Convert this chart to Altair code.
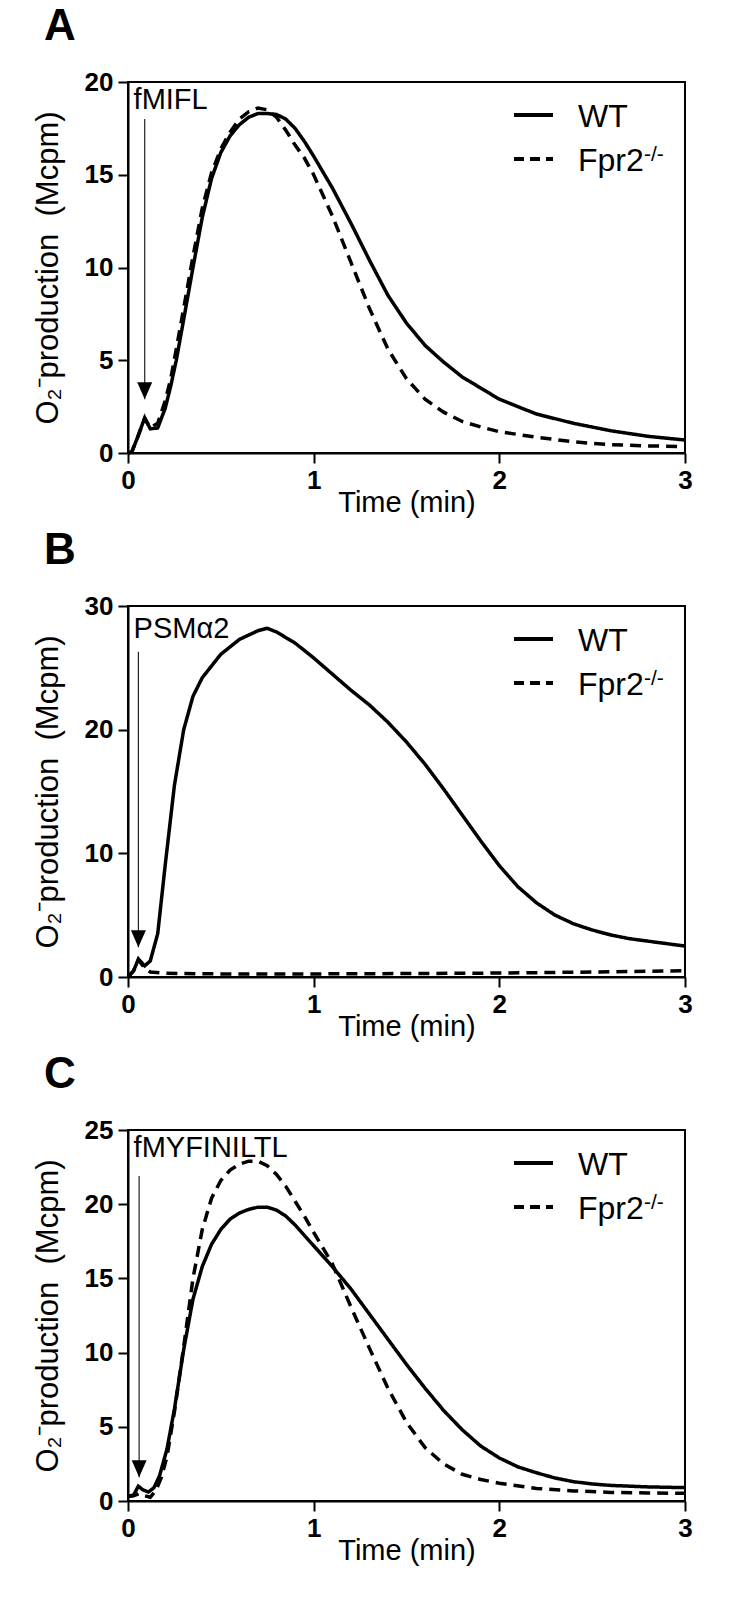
import altair as alt
import pandas as pd

FONT = "Liberation Sans"
Y_TITLE = "O₂⁻production\u00a0 (Mcpm)"
X_TITLE = "Time (min)"
SERIES = ["WT", "Fpr2"]

# ---------------- Panel A : fMIFL ----------------
a_time = [0, 0.02, 0.05, 0.09, 0.12, 0.16, 0.20, 0.23, 0.26, 0.30, 0.35, 0.40, 0.45,
          0.50, 0.55, 0.60, 0.65, 0.70, 0.75, 0.80, 0.85, 0.90, 0.95, 1.00, 1.10,
          1.20, 1.30, 1.40, 1.50, 1.60, 1.70, 1.80, 1.90, 2.00, 2.20, 2.40, 2.60,
          2.80, 3.00]
a_wt = [0.0, 0.05, 0.8, 1.9, 1.3, 1.35, 2.4, 3.6, 5.0, 7.2, 10.0, 12.7, 14.8,
        16.2, 17.1, 17.7, 18.1, 18.3, 18.3, 18.25, 18.0, 17.5, 16.8, 16.0, 14.3,
        12.4, 10.4, 8.5, 7.0, 5.8, 4.9, 4.1, 3.5, 2.9, 2.1, 1.6, 1.2,
        0.9, 0.7]
a_ko = [0.0, 0.05, 0.8, 1.85, 1.35, 1.6, 2.8, 4.0, 5.6, 7.8, 10.6, 13.2, 15.1,
        16.4, 17.3, 18.0, 18.4, 18.6, 18.5, 18.1, 17.4, 16.6, 15.9, 15.0, 12.8,
        10.3, 7.8, 5.6, 4.0, 2.9, 2.2, 1.7, 1.4, 1.15, 0.85, 0.6, 0.45,
        0.38, 0.35]

# ---------------- Panel B : PSMalpha2 ----------------
b_time_wt = [0, 0.03, 0.056, 0.09, 0.12, 0.16, 0.20, 0.25, 0.30, 0.35, 0.40, 0.50,
             0.60, 0.70, 0.75, 0.80, 0.90, 1.00, 1.10, 1.20, 1.30, 1.40, 1.50,
             1.60, 1.70, 1.80, 1.90, 2.00, 2.10, 2.20, 2.30, 2.40, 2.50, 2.60,
             2.70, 2.80, 2.90, 3.00]
b_wt = [0.0, 0.5, 1.45, 0.9, 1.3, 3.5, 9.0, 15.5, 20.0, 22.7, 24.2, 26.1,
        27.3, 28.0, 28.2, 27.9, 27.0, 25.8, 24.5, 23.2, 22.0, 20.6, 19.0,
        17.2, 15.2, 13.1, 11.0, 9.0, 7.3, 6.0, 5.0, 4.3, 3.8, 3.4,
        3.1, 2.9, 2.7, 2.5]
b_time_ko = [0, 0.03, 0.056, 0.09, 0.12, 0.20, 0.50, 1.00, 1.50, 2.00, 2.50, 3.00]
b_ko = [0.0, 0.5, 1.4, 0.7, 0.4, 0.3, 0.25, 0.25, 0.28, 0.32, 0.4, 0.5]

# ---------------- Panel C : fMYFINILTL ----------------
c_time_wt = [0, 0.03, 0.056, 0.08, 0.11, 0.14, 0.17, 0.21, 0.25, 0.30, 0.35, 0.40,
             0.45, 0.50, 0.55, 0.60, 0.65, 0.70, 0.75, 0.80, 0.85, 0.90, 0.95,
             1.00, 1.10, 1.20, 1.30, 1.40, 1.50, 1.60, 1.70, 1.80, 1.90, 2.00,
             2.10, 2.20, 2.30, 2.40, 2.50, 2.60, 2.80, 3.00]
c_wt = [0.3, 0.4, 1.0, 0.75, 0.6, 0.9, 1.7, 3.5, 6.2, 10.2, 13.6, 15.8,
        17.3, 18.3, 19.0, 19.4, 19.65, 19.8, 19.8, 19.6, 19.2, 18.6, 17.9,
        17.2, 15.8, 14.3, 12.6, 10.9, 9.2, 7.6, 6.1, 4.8, 3.7, 2.9,
        2.3, 1.9, 1.55, 1.3, 1.15, 1.05, 0.95, 0.9]
c_time_ko = [0, 0.03, 0.06, 0.09, 0.12, 0.15, 0.18, 0.21, 0.25, 0.30, 0.35, 0.40,
             0.45, 0.50, 0.55, 0.60, 0.65, 0.70, 0.75, 0.80, 0.85, 0.90, 0.95,
             1.00, 1.10, 1.20, 1.30, 1.40, 1.50, 1.60, 1.70, 1.80, 1.90, 2.00,
             2.20, 2.40, 2.60, 2.80, 3.00]
c_ko = [0.3, 0.35, 0.5, 0.35, 0.25, 0.7, 1.6, 3.0, 6.0, 10.4, 15.0, 18.3,
        20.4, 21.6, 22.3, 22.7, 22.9, 22.9, 22.6, 22.0, 21.2, 20.2, 19.2,
        18.1, 16.0, 13.1, 10.3, 7.6, 5.3, 3.6, 2.5, 1.8, 1.45, 1.2,
        0.85, 0.68, 0.58, 0.54, 0.52]

# stimulus annotations: label, label time, label y (baseline), arrow time, arrow top, arrow tip
stimuli = {
    "A": ("fMIFL", 0.03, 18.55, 0.09, 18.0, 2.9),
    "B": ("PSMα2", 0.03, 27.4, 0.056, 26.3, 2.4),
    "C": ("fMYFINILTL", 0.03, 23.2, 0.06, 21.9, 1.6),
}

ARROW_HEAD = "M-0.44,-1L0.44,-1L0,0Z"


def panel(letter, t_wt, v_wt, t_ko, v_ko, ymax, ystep):
    df = pd.concat([
        pd.DataFrame({"t": t_wt, "v": v_wt, "g": "WT"}),
        pd.DataFrame({"t": t_ko, "v": v_ko, "g": "Fpr2"}),
    ])
    xs = alt.Scale(domain=[0, 3], nice=False)
    ys = alt.Scale(domain=[0, ymax], nice=False)
    xaxis = alt.Axis(values=[0, 1, 2, 3], title=X_TITLE, labelFlush=False,
                     labelPadding=4, titlePadding=-5, format="d")
    yaxis = alt.Axis(values=list(range(0, ymax + 1, ystep)), title=Y_TITLE,
                     labelFlush=False, labelPadding=5, titlePadding=20)

    lines = alt.Chart(df).mark_line(color="black", strokeWidth=3.5).encode(
        x=alt.X("t:Q", scale=xs, axis=xaxis),
        y=alt.Y("v:Q", scale=ys, axis=yaxis),
        strokeDash=alt.StrokeDash("g:N", scale=alt.Scale(domain=SERIES, range=[[1, 0], [11, 7]]),
                                  legend=None),
        detail="g:N",
    )

    label, lt, ly, at, atop, atip = stimuli[letter]
    ann = pd.DataFrame({"label": [label], "lt": [lt], "ly": [ly],
                        "at": [at], "atop": [atop], "atip": [atip]})
    txt = alt.Chart(ann).mark_text(align="left", baseline="alphabetic", font=FONT,
                                   fontSize=29, color="black").encode(
        x=alt.X("lt:Q", scale=xs), y=alt.Y("ly:Q", scale=ys), text="label:N")
    rule = alt.Chart(ann).mark_rule(color="#222", strokeWidth=1.2).encode(
        x=alt.X("at:Q", scale=xs), y=alt.Y("atop:Q", scale=ys), y2="atip:Q")
    head = alt.Chart(ann).mark_point(shape=ARROW_HEAD, filled=True, color="black",
                                     opacity=1, size=1156).encode(
        x=alt.X("at:Q", scale=xs), y=alt.Y("atip:Q", scale=ys))

    leg = pd.DataFrame({"g": SERIES})
    leg_wt = alt.Chart(leg).transform_filter("datum.g == 'WT'").mark_rule(
        color="black", strokeWidth=4).encode(
        x=alt.value(386), x2=alt.value(425), y=alt.value(33))
    leg_ko = alt.Chart(leg).transform_filter("datum.g == 'Fpr2'").mark_rule(
        color="black", strokeWidth=4, strokeDash=[10, 6]).encode(
        x=alt.value(386), x2=alt.value(425), y=alt.value(77))
    leg_t1 = alt.Chart(leg).transform_filter("datum.g == 'WT'").mark_text(
        align="left", baseline="middle", font=FONT, fontSize=32, color="black").encode(
        x=alt.value(450), y=alt.value(35), text="g:N")
    leg_t2 = alt.Chart(leg).transform_filter("datum.g == 'Fpr2'").mark_text(
        align="left", baseline="middle", font=FONT, fontSize=32, color="black").encode(
        x=alt.value(450), y=alt.value(79), text="g:N")
    leg_sup = alt.Chart(leg).transform_filter("datum.g == 'Fpr2'").mark_text(
        align="left", baseline="top", font=FONT, fontSize=21, color="black",
        text="-/-").encode(x=alt.value(516), y=alt.value(62))

    return alt.layer(lines, rule, head, txt, leg_wt, leg_ko, leg_t1, leg_t2, leg_sup).properties(
        width=557, height=371,
        title=alt.TitleParams(text=letter, anchor="start", frame="group", dx=-84,
                              fontSize=44, fontWeight="bold", font=FONT,
                              baseline="alphabetic", offset=-15, color="black"),
    )


pA = panel("A", a_time, a_wt, a_time, a_ko, 20, 5)
pB = panel("B", b_time_wt, b_wt, b_time_ko, b_ko, 30, 10)
pC = panel("C", c_time_wt, c_wt, c_time_ko, c_ko, 25, 5)

chart = alt.vconcat(pA, pB, pC, spacing=10).properties(
    padding={"left": 23, "top": -4, "right": 5, "bottom": 5}
).configure_view(
    stroke="black", strokeWidth=2
).configure_axis(
    domainColor="black", domainWidth=2, tickColor="black", tickWidth=2, tickSize=10,
    labelFont=FONT, labelFontWeight="bold", labelFontSize=26, labelColor="black",
    titleFont=FONT, titleFontWeight="normal", titleFontSize=29, titleColor="black",
    grid=False, labelOverlap=False,
).configure_axisY(titleFontSize=31)

chart.save("out.html", embed_options={"renderer": "svg", "actions": False})
